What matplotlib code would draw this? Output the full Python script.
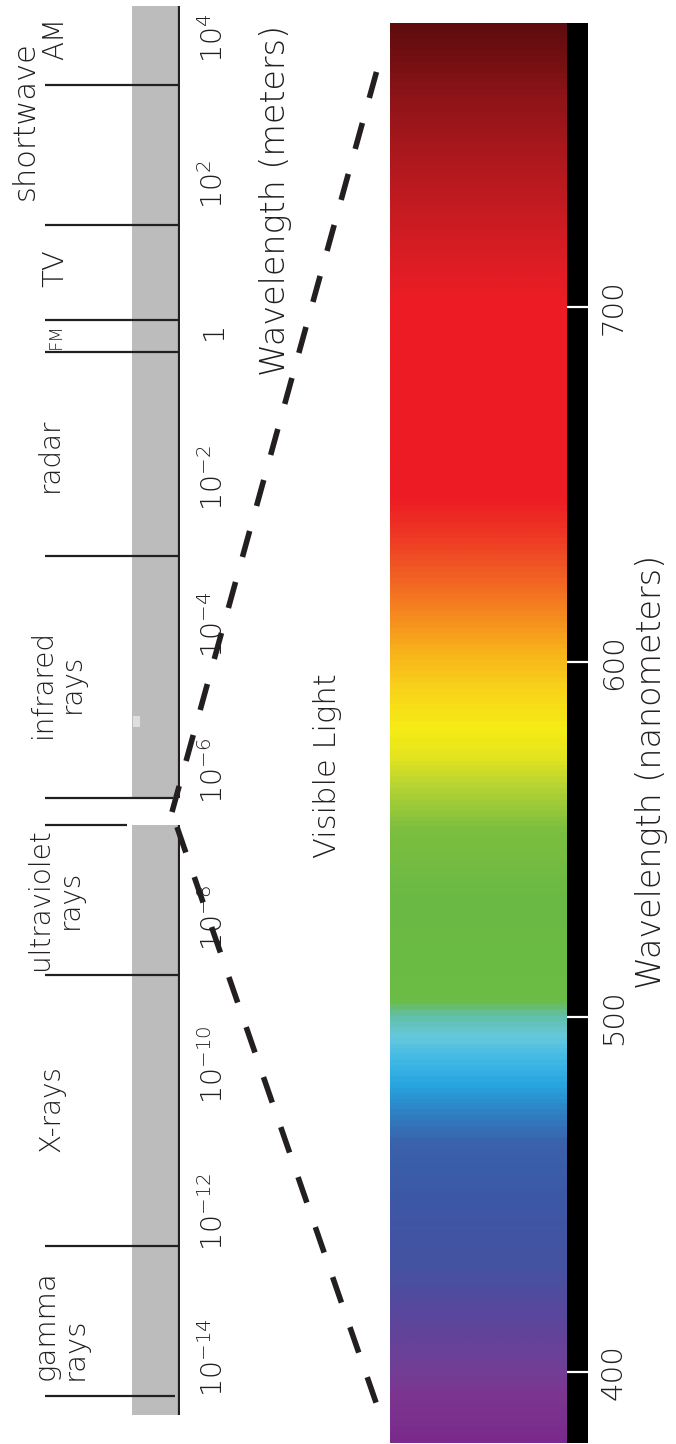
import numpy as np
import matplotlib
matplotlib.use('Agg')
import matplotlib.pyplot as plt
from matplotlib.colors import LinearSegmentedColormap, Normalize
from matplotlib.lines import Line2D
from matplotlib.ticker import NullLocator

plt.rcParams['font.family'] = ['DejaVu Sans']
plt.rcParams['font.weight'] = 'light'
plt.rcParams['mathtext.default'] = 'regular'
plt.rcParams['lines.scale_dashes'] = False

# ---------------- data ----------------
# electromagnetic spectrum, log10(wavelength / m)
region_names = ['AM', 'shortwave', 'TV', 'FM', 'radar', 'infrared\nrays',
                'ultraviolet\nrays', 'X-rays', 'gamma\nrays']
region_label_pos = [4.0, 2.88, 0.86, -0.06, -1.69, -4.8, -7.75, -10.6, -13.55]
region_boundaries = [3.36, 1.45, 0.155, -0.28, -3.06, -6.36, -6.73, -8.78, -12.47, -14.52]
band_top, band_bottom = 4.44, -14.78
gap_top, gap_bottom = -6.36, -6.73

meter_ticks = [1e-14, 1e-12, 1e-10, 1e-8, 1e-6, 1e-4, 1e-2, 1, 1e2, 1e4]
meter_tick_labels = [r'$10^{-14}$', r'$10^{-12}$', r'$10^{-10}$', r'$10^{-8}$',
                     r'$10^{-6}$', r'$10^{-4}$', r'$10^{-2}$', '1',
                     r'$10^{2}$', r'$10^{4}$']

# visible spectrum (nm)
nm_min, nm_max = 380, 780
nm_ticks = [400, 500, 600, 700]
spectrum_nm = [380, 392, 400, 415, 429, 449, 464, 472, 480, 487, 494, 500,
               504, 533, 553, 564, 573, 581, 592, 604, 615, 626, 635, 646,
               702, 716, 736, 759, 780]
spectrum_colors = ['#7a2a8c', '#7c3590', '#723e96', '#5a479c', '#4552a2',
                   '#3c58a6', '#3a62ac', '#2f7fc1', '#27a3de', '#3fb8e6',
                   '#66c9dd', '#62bfa8', '#6bbd45', '#6ab944', '#7dbf3f',
                   '#b2d235', '#e3e41f', '#f6ec15', '#f9d41a', '#f7ae1b',
                   '#f58220', '#f05a24', '#ee3a24', '#ed1c24', '#ed1c24',
                   '#d81d24', '#b81a1f', '#8f1418', '#5e0c0e']

# ---------------- layout / style ----------------
W, H = 676, 1444
ink = '#231f20'
gray = '#bcbcbc'
fig = plt.figure(figsize=(W / 100, H / 100), dpi=100)

px_per_dec = 73.33
ref_px = 38  # pixel row of 10^4
axb = fig.add_axes([0, 0, 180 / W, 1])
axb.set_xlim(0, 180)
axb.set_yscale('log')
axb.set_ylim(10 ** (4 - (H - ref_px) / px_per_dec), 10 ** (4 + ref_px / px_per_dec))
for s in axb.spines.values():
    s.set_visible(False)

# gray band with gap
axb.fill_betweenx([10 ** gap_top, 10 ** band_top], 132, 178, color=gray, lw=0)
axb.fill_betweenx([10 ** band_bottom, 10 ** gap_bottom], 132, 178, color=gray, lw=0)
axb.fill_betweenx([10 ** -5.40, 10 ** -5.25], 133, 140, color='#dedede', lw=0)
# axis line
axb.vlines(179, 10 ** gap_top, 10 ** band_top, color=ink, lw=1.6)
axb.vlines(179, 10 ** band_bottom, 10 ** gap_bottom, color=ink, lw=1.6)
# boundary lines
line_end = [179, 179, 179, 179, 179, 173, 127, 179, 179, 175]
for b, xe in zip(region_boundaries, line_end):
    axb.hlines(10 ** b, 45, xe, color=ink, lw=1.6)

label_x = [55, 25, 55, 56, 50, 57, 55, 51, 60]
label_fs = [20, 22, 21, 13, 20, 20, 20, 20, 21]
label_ma = ['center'] * 8 + ['left']
for name, pos, x, fs, ma in zip(region_names, region_label_pos, label_x,
                                label_fs, label_ma):
    axb.text(x, 10 ** pos, name, rotation=90, ha='center', va='center',
             fontsize=fs, color=ink, multialignment=ma, linespacing=1.05)

axb.yaxis.set_ticks_position('right')
axb.set_yticks(meter_ticks, meter_tick_labels)
axb.yaxis.set_minor_locator(NullLocator())
axb.tick_params(axis='y', length=0, pad=14, labelsize=20.5, labelrotation=90,
                labelcolor=ink)
axb.tick_params(axis='x', bottom=False, labelbottom=False)
for lbl in axb.get_yticklabels():
    lbl.set_va('center')

# spectrum axes
sx0, sx1, sy0, sy1 = 390, 588, 23, 1443
axs = fig.add_axes([sx0 / W, 1 - sy1 / H, (sx1 - sx0) / W, (sy1 - sy0) / H])
axs.set_xlim(0, 1)
axs.set_ylim(nm_min, nm_max)
for s in axs.spines.values():
    s.set_visible(False)
stops = [(v - nm_min) / (nm_max - nm_min) for v in spectrum_nm]
cmap = LinearSegmentedColormap.from_list('vis', list(zip(stops, spectrum_colors)))
grad = np.linspace(nm_min, nm_max, 1000)[:, None]
split = 177 / 198
axs.imshow(grad, extent=(0, split, nm_min, nm_max), origin='lower', aspect='auto',
           cmap=cmap, norm=Normalize(nm_min, nm_max), interpolation='bilinear')
axs.axvspan(split, 1, color='black', lw=0)
axs.yaxis.tick_right()
axs.set_yticks(nm_ticks)
axs.tick_params(axis='y', direction='in', length=15, width=1.6, color='white',
                pad=8.6, labelsize=21, labelrotation=90, labelcolor=ink)
axs.tick_params(axis='x', bottom=False, labelbottom=False)
for lbl in axs.get_yticklabels():
    lbl.set_va('center')

# dashed zoom lines
def to_fig(ax, x, y):
    return fig.transFigure.inverted().transform(ax.transData.transform((x, y)))

for (bx, be), (corner_nm) in [((172, -6.555), nm_max), ((177, -6.76), nm_min)]:
    p0 = to_fig(axb, bx, 10 ** be)
    p1 = to_fig(axs, 0, corner_nm)
    p1 = p0 + 0.95 * (p1 - p0)
    fig.add_artist(Line2D([p0[0], p1[0]], [p0[1], p1[1]], transform=fig.transFigure,
                          color=ink, lw=4.0, dashes=(19.4, 18.7),
                          dash_capstyle='butt'))

fig.text(276 / W, 1 - 200 / H, 'Wavelength (meters)', rotation=90,
         ha='center', va='center', fontsize=24, color=ink)
fig.text(328 / W, 1 - 766 / H, 'Visible Light', rotation=90,
         ha='center', va='center', fontsize=22, color=ink)
fig.text(652 / W, 1 - 772 / H, 'Wavelength (nanometers)', rotation=90,
         ha='center', va='center', fontsize=24, color=ink)

fig.savefig('out.png', dpi=100, facecolor='white')
